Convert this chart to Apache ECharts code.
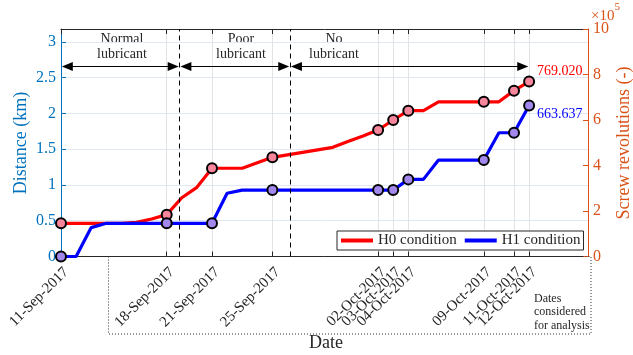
<!DOCTYPE html>
<html>
<head>
<meta charset="utf-8">
<script src="https://cdn.jsdelivr.net/npm/echarts@6/dist/echarts.min.js"></script>
<style>
  html, body { margin: 0; padding: 0; background: #fff; }
  #chart { width: 633px; height: 355px; }
</style>
</head>
<body>
<div id="chart"></div>
<script>
// First day of the logged period; every daily value below follows on from it.
const startDate = '11-Sep-2017';

// Cumulative screw revolutions per day, in thousands (11-Sep-2017 .. 12-Oct-2017).
const h0Revs = [146, 146, 146, 146, 146, 150, 165, 184, 258, 304, 388, 388, 388, 412, 436, 447,
                458, 469, 480, 505, 530, 556, 600, 641, 641, 680, 680, 680, 680, 680, 729, 769.020];
const h1Revs = [0, 0, 127, 146, 146, 146, 146, 146, 146, 146, 146, 278, 292, 292, 292, 292,
                292, 292, 292, 292, 292, 292, 292, 339, 339, 424, 424, 424, 424, 544, 544, 663.637];

// Dates used in the analysis (ticks, grid lines and markers).
const analysisDates = ['11-Sep-2017', '18-Sep-2017', '21-Sep-2017', '25-Sep-2017', '02-Oct-2017',
                       '03-Oct-2017', '04-Oct-2017', '09-Oct-2017', '11-Oct-2017', '12-Oct-2017'];

// Lubrication phases: boundaries in days after the start date.
const phaseNames = ['Normal\nlubricant', 'Poor\nlubricant', 'No\nlubricant'];
const phaseEdges = [0, 7.85, 15.17, 31];

// Axis ticks
const distanceTicks = [0, 0.5, 1, 1.5, 2, 2.5, 3];   // km
const revTicks = [0, 2, 4, 6, 8, 10];                 // x10^5 revolutions

// Distance travelled per thousand screw revolutions (km)
const kmPerKiloRev = 0.00318;
const revMax = 1000;          // thousands of revolutions (= 10 x 10^5)
const dayMax = 34.9;

const MONTHS = { Jan: 0, Feb: 1, Mar: 2, Apr: 3, May: 4, Jun: 5, Jul: 6, Aug: 7, Sep: 8, Oct: 9, Nov: 10, Dec: 11 };
function parseDate(s) {
  const [d, m, y] = s.split('-');
  return Date.UTC(+y, MONTHS[m], +d);
}
const t0 = parseDate(startDate);
const dayOf = s => Math.round((parseDate(s) - t0) / 86400000);
const tickDays = analysisDates.map(dayOf);
const labelByDay = {};
analysisDates.forEach((s, i) => { labelByDay[tickDays[i]] = s; });
const markerDays = new Set(tickDays);

const SERIF = '"Liberation Serif", "DejaVu Serif", serif';
const DARK = '#262626';
const BLUE_AX = '#0072bd';
const ORANGE_AX = '#d95319';

const chart = echarts.init(document.getElementById('chart'), null, { renderer: 'canvas' });

const markerSymbol = (value, params) => (markerDays.has(params.dataIndex) ? 'circle' : 'none');
const arrowLevel = 2.655;   // km
const headInset = 0.42;     // days: keeps arrow tips just inside each phase edge

const option = {
  animation: false,
  backgroundColor: '#fff',
  textStyle: { fontFamily: SERIF },
  grid: { left: 61, right: 45, top: 29, bottom: 98.5, containLabel: false, outerBoundsMode: 'none' },
  legend: {
    left: 337, top: 231,
    orient: 'horizontal',
    backgroundColor: '#fff',
    borderColor: DARK, borderWidth: 1, borderRadius: 0,
    padding: [2, 3, 2, 4],
    itemGap: 8,
    itemWidth: 32, itemHeight: 4,
    textStyle: { fontFamily: SERIF, fontSize: 15, color: DARK },
    selectedMode: false,
    data: [
      { name: 'H0 condition', icon: 'rect', itemStyle: { color: '#ff0000', borderWidth: 0 } },
      { name: 'H1 condition', icon: 'rect', itemStyle: { color: '#0000ff', borderWidth: 0 } }
    ]
  },
  xAxis: [
    {
      type: 'value', min: 0, max: dayMax, position: 'bottom',
      axisLine: { show: true, onZero: false, lineStyle: { color: DARK, width: 1 } },
      axisTick: { show: true, inside: true, length: 5, customValues: tickDays, lineStyle: { color: DARK } },
      axisLabel: {
        show: true,
        // a blank label at the far end keeps the last two crowded dates both visible
        customValues: tickDays.concat([dayMax]),
        rotate: 45, margin: 8, verticalAlign: 'top',
        fontFamily: SERIF, fontSize: 15, color: DARK,
        formatter: v => labelByDay[Math.round(v)] || ' '
      },
      splitLine: { show: true, lineStyle: { color: '#e3e3e3', width: 1 } }
    },
    {
      type: 'value', min: 0, max: dayMax, position: 'top',
      axisLine: { show: true, onZero: false, lineStyle: { color: DARK, width: 1 } },
      axisTick: { show: true, inside: true, length: 5, customValues: tickDays, lineStyle: { color: DARK } },
      axisLabel: { show: false },
      splitLine: { show: false }
    }
  ],
  yAxis: [
    {
      type: 'value', min: 0, max: revMax * kmPerKiloRev, interval: 0.5, position: 'left',
      axisLine: { show: true, onZero: false, lineStyle: { color: BLUE_AX, width: 1 } },
      axisTick: { show: true, inside: true, length: 5, customValues: distanceTicks, lineStyle: { color: BLUE_AX } },
      axisLabel: {
        customValues: distanceTicks, margin: 5, fontFamily: SERIF, fontSize: 16, color: BLUE_AX,
        formatter: v => String(v)
      },
      splitLine: { show: true, lineStyle: { color: '#e0e9f2', width: 1 } }
    },
    {
      type: 'value', min: 0, max: revMax, interval: 200, position: 'right',
      axisLine: { show: true, onZero: false, lineStyle: { color: ORANGE_AX, width: 1 } },
      axisTick: { show: true, inside: true, length: 5, lineStyle: { color: ORANGE_AX } },
      axisLabel: {
        margin: 5, fontFamily: SERIF, fontSize: 16, color: ORANGE_AX,
        formatter: v => String(Math.round(v / 100))
      },
      splitLine: { show: false }
    }
  ],
  series: [
    {
      name: 'H0 condition', type: 'line', xAxisIndex: 0, yAxisIndex: 1,
      data: h0Revs.map((v, i) => [i, v]),
      lineStyle: { color: '#ff0000', width: 3.2 },
      itemStyle: { color: '#f7859b', borderColor: '#000', borderWidth: 2 },
      symbol: markerSymbol, symbolSize: 10, showSymbol: true, showAllSymbol: true,
      silent: true, z: 3,
      endLabel: {
        show: true, formatter: p => p.value[1].toFixed(3),
        color: '#ff0000', fontFamily: SERIF, fontSize: 14, offset: [0, -10], distance: 8
      }
    },
    {
      name: 'H1 condition', type: 'line', xAxisIndex: 0, yAxisIndex: 1,
      data: h1Revs.map((v, i) => [i, v]),
      lineStyle: { color: '#0000ff', width: 3.2 },
      itemStyle: { color: '#a287ec', borderColor: '#000', borderWidth: 2 },
      symbol: markerSymbol, symbolSize: 10, showSymbol: true, showAllSymbol: true,
      silent: true, z: 4,
      endLabel: {
        show: true, formatter: p => p.value[1].toFixed(3),
        color: '#0000ff', fontFamily: SERIF, fontSize: 14, offset: [0, 9], distance: 8
      }
    },
    {
      // phase boundaries
      name: 'phase-bounds', type: 'line', xAxisIndex: 0, yAxisIndex: 0, data: [], silent: true, z: 2,
      markLine: {
        silent: true, symbol: ['none', 'none'], label: { show: false },
        lineStyle: { color: '#000', type: [5, 4], width: 1 },
        data: phaseEdges.slice(1, -1).map(d => ({ xAxis: d }))
      }
    },
    {
      // phase spans
      name: 'phase-arrows', type: 'line', xAxisIndex: 0, yAxisIndex: 0, data: [], silent: true, z: 5,
      markLine: {
        silent: true, symbol: ['triangle', 'triangle'], symbolSize: [9, 11],
        label: { show: false },
        lineStyle: { color: '#000', type: 'solid', width: 1 },
        itemStyle: { color: '#000' },
        data: phaseNames.map((n, i) => [
          { coord: [phaseEdges[i] + headInset, arrowLevel] },
          { coord: [phaseEdges[i + 1] - headInset, arrowLevel] }
        ])
      }
    }
  ],
  graphic: [
    {
      type: 'text', left: 591, top: 2, silent: true,
      style: {
        text: '{a|×10}{b|5}', fill: ORANGE_AX,
        rich: {
          a: { fontFamily: SERIF, fontSize: 15, fill: ORANGE_AX, verticalAlign: 'bottom', lineHeight: 22 },
          b: { fontFamily: SERIF, fontSize: 11, fill: ORANGE_AX, verticalAlign: 'top', lineHeight: 12 }
        }
      }
    },
    {
      type: 'text', x: 21, y: 143, rotation: Math.PI / 2, silent: true,
      style: { text: 'Distance (km)', fontFamily: SERIF, fontSize: 18, fill: BLUE_AX, align: 'center', verticalAlign: 'middle' }
    },
    {
      type: 'text', x: 624, y: 143, rotation: Math.PI / 2, silent: true,
      style: { text: 'Screw revolutions (-)', fontFamily: SERIF, fontSize: 18, fill: ORANGE_AX, align: 'center', verticalAlign: 'middle' }
    },
    {
      type: 'text', x: 326, y: 343, silent: true,
      style: { text: 'Date', fontFamily: SERIF, fontSize: 18, fill: DARK, align: 'center', verticalAlign: 'middle' }
    },
    {
      type: 'text', x: 122, y: 47, silent: true,
      style: { text: phaseNames[0], fontFamily: SERIF, fontSize: 14, lineHeight: 15.5, fill: DARK, align: 'center', verticalAlign: 'middle' }
    },
    {
      type: 'text', x: 241, y: 47, silent: true,
      style: { text: phaseNames[1], fontFamily: SERIF, fontSize: 14, lineHeight: 15.5, fill: DARK, align: 'center', verticalAlign: 'middle' }
    },
    {
      type: 'text', x: 334, y: 47, silent: true,
      style: { text: phaseNames[2], fontFamily: SERIF, fontSize: 14, lineHeight: 15.5, fill: DARK, align: 'center', verticalAlign: 'middle' }
    },
    {
      type: 'rect', silent: true, z: 10,
      shape: { x: 108.5, y: 256.5, width: 482.5, height: 77.5 },
      style: { fill: 'none', stroke: '#333', lineWidth: 1, lineDash: [1, 2] }
    },
    {
      type: 'text', x: 534, y: 312, silent: true, z: 10,
      style: { text: 'Dates\nconsidered\nfor analysis', fontFamily: SERIF, fontSize: 12, lineHeight: 13.5, fill: DARK, align: 'left', verticalAlign: 'middle' }
    }
  ]
};

chart.setOption(option);
</script>
</body>
</html>
